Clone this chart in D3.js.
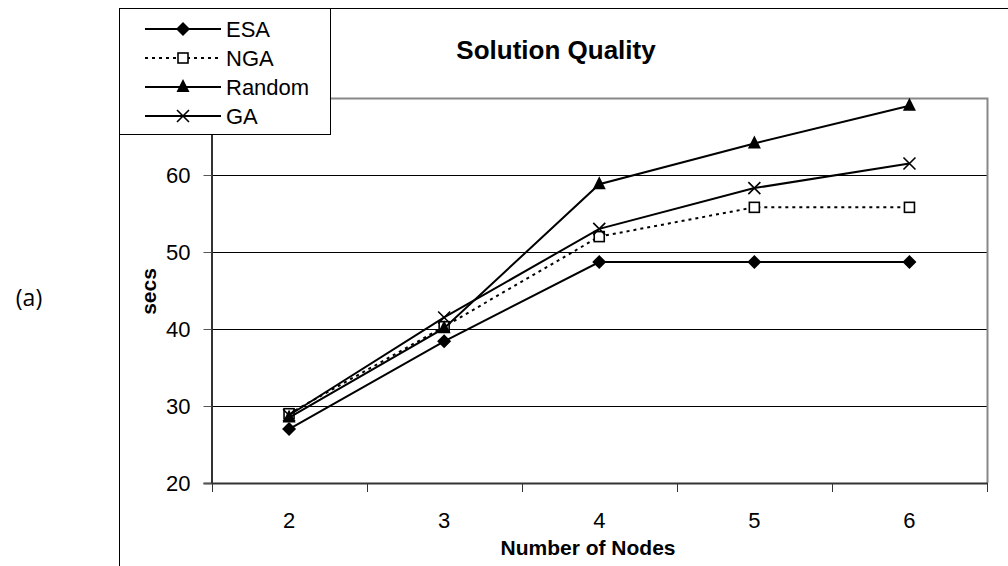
<!DOCTYPE html>
<html>
<head>
<meta charset="utf-8">
<script src="https://cdn.jsdelivr.net/npm/d3@7/dist/d3.min.js"></script>
<style>
  html, body { margin: 0; padding: 0; background: #fff; }
  svg { display: block; }
  text { font-family: "Liberation Sans", Arial, sans-serif; fill: #000; }
</style>
</head>
<body>
<svg id="chart" width="1008" height="566"></svg>
<script>
// Number of nodes on the x axis
const categories = [2, 3, 4, 5, 6];
// Series values (secs)
const esaValues    = [27.0, 38.4, 48.7, 48.7, 48.7];
const ngaValues    = [29.0, 40.3, 52.0, 55.8, 55.8];
const randomValues = [28.5, 40.1, 58.8, 64.1, 69.0];
const gaValues     = [28.8, 41.5, 53.0, 58.3, 61.5];
// Y axis
const yTicks = [20, 30, 40, 50, 60];
const yDomain = [20, 70];

const seriesNames = ["ESA", "NGA", "Random", "GA"];
const series = [
  { name: seriesNames[0], values: esaValues,    marker: "diamond",  dash: null },
  { name: seriesNames[1], values: ngaValues,    marker: "square",   dash: "3,4" },
  { name: seriesNames[2], values: randomValues, marker: "triangle", dash: null },
  { name: seriesNames[3], values: gaValues,     marker: "cross",    dash: null }
];

const svg = d3.select("#chart");
const plot = { left: 211.5, right: 987, top: 98, bottom: 483 };

const x = d3.scaleBand().domain(categories).range([plot.left, plot.right]);
const y = d3.scaleLinear().domain(yDomain).range([plot.bottom, plot.top]);
const cx = c => x(c) + x.bandwidth() / 2;

// Outer frame (left and top edges)
svg.append("path")
  .attr("d", `M119.5,566 V8.5 H1008`)
  .attr("fill", "none").attr("stroke", "#000").attr("stroke-width", 1);

// "(a)" caption
svg.append("text")
  .attr("x", 29).attr("y", 297)
  .attr("text-anchor", "middle").attr("dominant-baseline", "central")
  .style("font-family", "'Open Sans', 'DejaVu Sans', sans-serif")
  .style("font-size", "23px")
  .text("(a)");

// Title
svg.append("text")
  .attr("x", 556).attr("y", 50)
  .attr("text-anchor", "middle").attr("dominant-baseline", "central")
  .style("font-size", "26px").style("font-weight", "bold")
  .text("Solution Quality");

// Horizontal gridlines
svg.append("g").selectAll("line")
  .data(yTicks.filter(t => t > yDomain[0]))
  .join("line")
  .attr("x1", plot.left).attr("x2", plot.right)
  .attr("y1", d => Math.round(y(d)) + 0.5).attr("y2", d => Math.round(y(d)) + 0.5)
  .attr("stroke", "#000").attr("stroke-width", 1);

// Plot-area border (top and right, gray)
svg.append("path")
  .attr("d", `M${plot.left},${plot.top + 0.5} H${plot.right + 0.5} V${plot.bottom}`)
  .attr("fill", "none").attr("stroke", "#888").attr("stroke-width", 2);

// Y axis
const yAxis = svg.append("g")
  .attr("transform", `translate(${plot.left},0)`)
  .call(d3.axisLeft(y).tickValues(yTicks).tickSize(8).tickPadding(13));
yAxis.select(".domain").attr("stroke", "#333").attr("stroke-width", 2);
yAxis.selectAll(".tick line").attr("stroke", "#555");
yAxis.selectAll(".tick text")
  .style("font-size", "22px").style("font-family", "'Liberation Sans', Arial, sans-serif")
  .attr("fill", "#000");

// X axis: labels centred in each band, tick marks on band edges
const xAxis = svg.append("g")
  .attr("transform", `translate(0,${plot.bottom})`)
  .call(d3.axisBottom(x).tickSize(0).tickPadding(29));
xAxis.select(".domain").attr("stroke", "#333").attr("stroke-width", 2);
xAxis.selectAll(".tick text")
  .style("font-size", "22px").style("font-family", "'Liberation Sans', Arial, sans-serif")
  .attr("fill", "#000");
const edges = categories.map(c => x(c)).concat([x.range()[1]]);
svg.append("g").selectAll("line")
  .data(edges).join("line")
  .attr("x1", d => Math.round(d) + 0.5).attr("x2", d => Math.round(d) + 0.5)
  .attr("y1", plot.bottom).attr("y2", plot.bottom + 9)
  .attr("stroke", "#333").attr("stroke-width", 1);

// Axis titles
svg.append("text")
  .attr("x", 588).attr("y", 547)
  .attr("text-anchor", "middle").attr("dominant-baseline", "central")
  .style("font-size", "21px").style("font-weight", "bold")
  .text("Number of Nodes");
svg.append("text")
  .attr("transform", `translate(148,${(plot.top + plot.bottom) / 2 + 1}) rotate(-90)`)
  .attr("text-anchor", "middle").attr("dominant-baseline", "central")
  .style("font-size", "21px").style("font-weight", "bold")
  .text("secs");

// Marker drawing
function drawMarker(g, type, px, py) {
  if (type === "diamond") {
    g.append("path").attr("d", `M0,-7 L7,0 L0,7 L-7,0 Z`)
      .attr("transform", `translate(${px},${py})`)
      .attr("fill", "#000");
  } else if (type === "square") {
    g.append("rect")
      .attr("x", px - 5).attr("y", py - 5).attr("width", 10).attr("height", 10)
      .attr("fill", "#fff").attr("stroke", "#000").attr("stroke-width", 1.6);
  } else if (type === "triangle") {
    g.append("path").attr("d", `M0,-8 L6.5,5 L-6.5,5 Z`)
      .attr("transform", `translate(${px},${py})`)
      .attr("fill", "#000");
  } else if (type === "cross") {
    g.append("path").attr("d", `M-6,-6 L6,6 M-6,6 L6,-6`)
      .attr("transform", `translate(${px},${py})`)
      .attr("fill", "none").attr("stroke", "#000").attr("stroke-width", 1.6);
  }
}

// Series lines and markers
const line = d3.line().x((d, i) => cx(categories[i])).y(d => y(d));
series.forEach(s => {
  const g = svg.append("g");
  g.append("path").datum(s.values)
    .attr("d", line)
    .attr("fill", "none").attr("stroke", "#000").attr("stroke-width", 2)
    .attr("stroke-dasharray", s.dash);
  s.values.forEach((v, i) => drawMarker(g, s.marker, cx(categories[i]), y(v)));
});

// Legend
const legend = svg.append("g");
legend.append("rect")
  .attr("x", 119.5).attr("y", 8.5).attr("width", 211).attr("height", 126)
  .attr("fill", "#fff").attr("stroke", "#000").attr("stroke-width", 1);
series.forEach((s, i) => {
  const ly = 29 + i * 29;
  const g = legend.append("g");
  g.append("line")
    .attr("x1", 145).attr("x2", 221).attr("y1", ly).attr("y2", ly)
    .attr("stroke", "#000").attr("stroke-width", 2)
    .attr("stroke-dasharray", s.dash);
  drawMarker(g, s.marker, 183, ly);
  g.append("text")
    .attr("x", 226).attr("y", ly)
    .attr("dominant-baseline", "central")
    .style("font-size", "22px")
    .text(s.name);
});
</script>
</body>
</html>
